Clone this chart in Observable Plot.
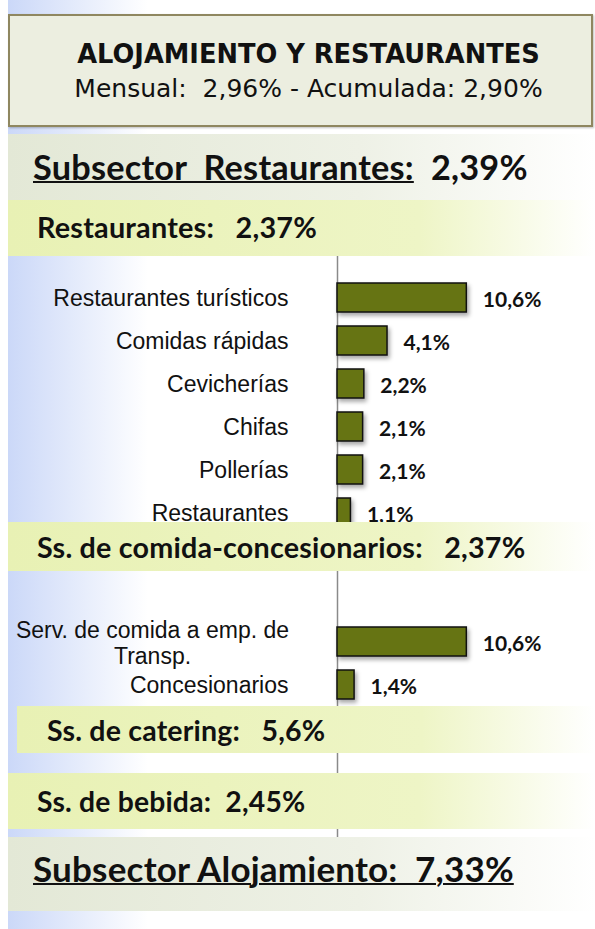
<!DOCTYPE html>
<html><head><meta charset="utf-8">
<script src="https://cdn.jsdelivr.net/npm/d3@7"></script>
<script src="https://cdn.jsdelivr.net/npm/@observablehq/plot@0.6"></script>
<style>
body{margin:0;background:#fff;}
#page{position:relative;width:595px;height:929px;overflow:hidden;background:#fff;}
.bg{position:absolute;left:8px;top:0;width:587px;height:929px;background:linear-gradient(to right,#cbd8f8 0px,#ffffff 140px);}
.abs{position:absolute;}
.hdr{left:8px;top:14px;width:581px;height:109px;background:#eceee0;border:2px solid #8f8760;box-shadow:1px 1px 2px rgba(0,0,0,0.25);text-align:center;font-family:"DejaVu Sans";color:#111;}
.hdr div{position:absolute;left:16px;right:0;line-height:1;white-space:pre;}
.band{left:8px;right:0;font-family:Lato;font-weight:bold;color:#111;white-space:pre;}
.gray{background:linear-gradient(to right,#e3e8d6 0%,#eef1e6 60%,#ffffff 100%);}
.yel{background:linear-gradient(to right,#e8f1b4 0%,#eef5c6 70%,#ffffff 100%);}
.band span{position:absolute;line-height:1;}
.chart{position:absolute;left:0;}
.chart svg{overflow:visible}
.chart g[aria-label="bar"] rect{filter:drop-shadow(2px 3px 2px rgba(0,0,0,0.35));}
</style></head>
<body><div id="page"><div class="bg"></div></div>
<script>
const titleText = "ALOJAMIENTO Y RESTAURANTES";
const subtitleText = "Mensual:  2,96% - Acumulada: 2,90%";
const sectionNames = ["Subsector  Restaurantes:", "Restaurantes:", "Ss. de comida-concesionarios:", "Ss. de catering:", "Ss. de bebida:", "Subsector Alojamiento:"];
const sectionValues = ["2,39%", "2,37%", "2,37%", "5,6%", "2,45%", "7,33%"];
const restCategories = ["Restaurantes turísticos", "Comidas rápidas", "Cevicherías", "Chifas", "Pollerías", "Restaurantes"];
const restValues = [10.6, 4.1, 2.2, 2.1, 2.1, 1.1];
const concCategories = ["Serv. de comida a emp. de\nTransp.", "Concesionarios"];
const concValues = [10.6, 1.4];

const page = document.getElementById("page");
const fmt = v => v.toFixed(1).replace(".", ",") + "%";
const rest = restCategories.map((name, i) => ({name, value: restValues[i]}));
const conc = concCategories.map((name, i) => ({name, value: concValues[i]}));

// header
const hdr = document.createElement("div");
hdr.className = "abs hdr";
const t1 = document.createElement("div");
t1.style.cssText = "top:26px;font-weight:bold;font-size:25.7px;";
t1.textContent = titleText;
const t2 = document.createElement("div");
t2.style.cssText = "top:60px;font-size:25px;";
t2.textContent = subtitleText;
hdr.append(t1, t2);
page.appendChild(hdr);

function addChart(data, top, height, mt, mb) {
  const marks = [
    Plot.ruleX([0], {stroke: "#8a8a8a", strokeWidth: 1.5, insetTop: -mt, insetBottom: -mb}),
    Plot.barX(data, {x: "value", y: "name", fill: "#667413", stroke: "#111", strokeWidth: 1.5}),
    Plot.text(data, {x: "value", y: "name", text: d => fmt(d.value), textAnchor: "start", dx: 16, dy: 2, fontFamily: "Lato", fontWeight: "bold", fontSize: 21, fill: "#111"}),
    Plot.text(data.filter(d => !d.name.includes("\n")), {y: "name", text: "name", frameAnchor: "left", textAnchor: "end", dx: -49, dy: 1, fontFamily: "Liberation Sans", fontSize: 23, fill: "#111"}),
    Plot.text(data.filter(d => d.name.includes("\n")), {y: "name", text: "name", frameAnchor: "left", textAnchor: "middle", dx: -185, dy: 1, lineHeight: 1.13, fontFamily: "Liberation Sans", fontSize: 23, fill: "#111"})
  ];
  const svg = Plot.plot({
    width: 595, height, marginLeft: 337, marginRight: 14, marginTop: mt, marginBottom: mb,
    style: {background: "transparent", overflow: "visible"},
    x: {domain: [0, 20], axis: null},
    y: {domain: data.map(d => d.name), axis: null, paddingInner: 14 / 43, paddingOuter: 7 / 43},
    marks
  });
  const wrap = document.createElement("div");
  wrap.className = "chart";
  wrap.style.top = top + "px";
  wrap.appendChild(svg);
  page.appendChild(wrap);
}
addChart(rest, 256, 290, 20, 12);
addChart(conc, 571, 266, 49, 131);

// section bands
const bandCfg = [
  {cls: "gray", top: 134, h: 66, left: 8, x: 25, fs: 34.3, base: 46, underline: "name"},
  {cls: "yel", top: 200, h: 56, left: 8, x: 29, fs: 28.8, base: 39},
  {cls: "yel", top: 522, h: 49, left: 8, x: 29, fs: 28.7, base: 36},
  {cls: "yel", top: 706, h: 47, left: 17, x: 30, fs: 28.5, base: 35},
  {cls: "yel", top: 773, h: 56, left: 8, x: 29, fs: 28.3, base: 39},
  {cls: "gray", top: 837, h: 74, left: 8, x: 25, fs: 35, base: 45, underline: "all"}
];
const gaps = ["  ", "   ", "   ", "   ", "  ", "  "];
bandCfg.forEach((c, i) => {
  const b = document.createElement("div");
  b.className = "abs band " + c.cls;
  b.style.top = c.top + "px"; b.style.height = c.h + "px"; b.style.left = c.left + "px";
  const s = document.createElement("span");
  s.style.left = c.x + "px";
  s.style.fontSize = c.fs + "px";
  s.style.letterSpacing = "0.2px";
  s.style.top = (c.base - 0.887 * c.fs) + "px";
  const nm = sectionNames[i], val = sectionValues[i];
  if (c.underline === "name") s.innerHTML = `<u style="text-decoration-thickness:2px">${nm}</u>${gaps[i]}${val}`;
  else if (c.underline === "all") s.innerHTML = `<u style="text-decoration-thickness:2px">${nm}${gaps[i]}${val}</u>`;
  else s.textContent = nm + gaps[i] + val;
  b.appendChild(s);
  page.appendChild(b);
});
</script></body></html>
